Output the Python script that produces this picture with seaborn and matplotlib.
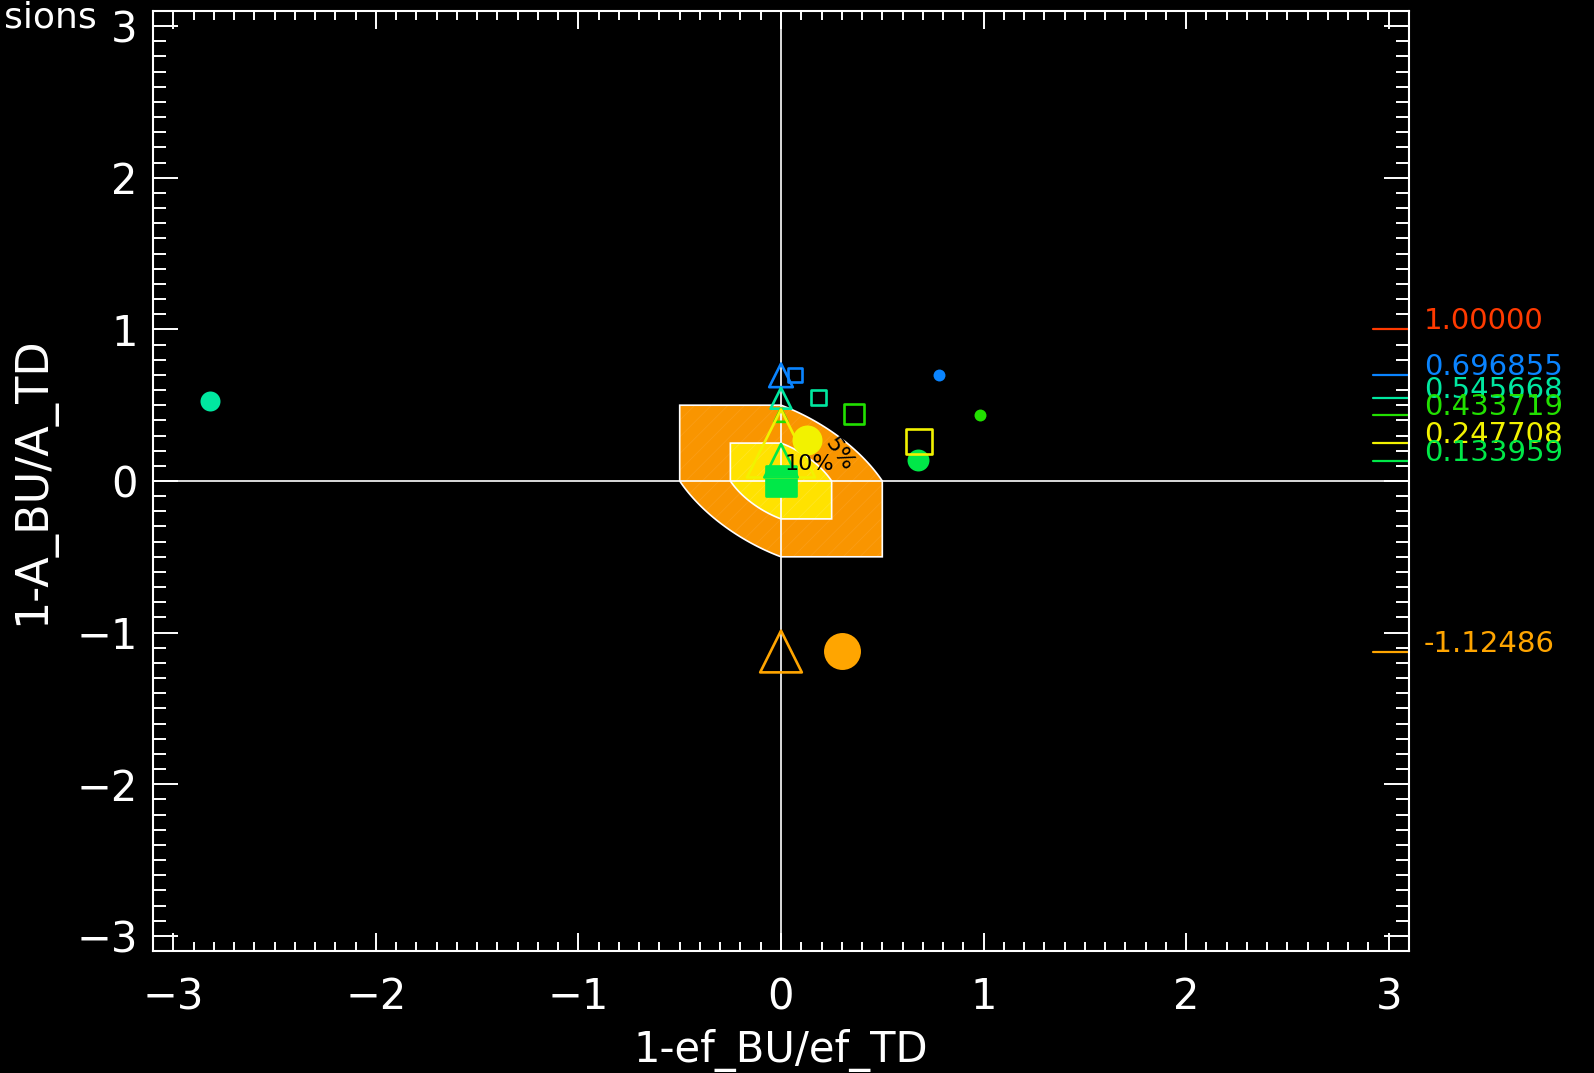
import numpy as np
import pandas as pd
import matplotlib
matplotlib.use("Agg")
import matplotlib.pyplot as plt
import seaborn as sns
from matplotlib.patches import Polygon
from matplotlib.transforms import blended_transform_factory
from matplotlib.ticker import MultipleLocator

nan = np.nan

# ---------------- data ----------------
series_labels = ["1.00000", "0.696855", "0.545668", "0.433719", "0.247708", "0.133959", "-1.12486"]
series_values = [1.00000, 0.696855, 0.545668, 0.433719, 0.247708, 0.133959, -1.12486]
series_colors = ["#FF3A00", "#0A84FF", "#00E8A0", "#22E000", "#F2F200", "#00E848", "#FFA500"]

# open triangles (x, y, size in points)
tri_x = [nan, 0.0, 0.0, 0.0, 0.0, 0.0, 0.0]
tri_y = [nan, 0.696855, 0.545668, 0.433719, 0.247708, 0.133959, -1.12486]
tri_size = [nan, 17, 15, 9.5, 49, 24, 30]

# squares (x, y, size in points, filled?)
sq_x = [nan, 0.07, 0.185, 0.36, 0.68, 0.0, nan]
sq_y = [nan, 0.70, 0.55, 0.44, 0.26, 0.0, nan]
sq_size = [nan, 10, 11, 14.5, 18.5, 22, nan]
sq_filled = [False, False, False, False, False, True, False]

# filled circles (x, y, diameter in points)
circ_x = [nan, 0.78, -2.82, 0.98, 0.13, 0.675, 0.30]
circ_y = [nan, 0.70, 0.53, 0.435, 0.27, 0.138, -1.12]
circ_size = [nan, 8.6, 14.4, 8.6, 21.6, 15.8, 26.6]

# tolerance zones
zone_radii = [0.5, 0.25]
zone_colors = ["#F99500", "#FFE200"]
zone_hatch = ["#FB9E18", "#FFE628"]
zone_texts = ["10%", "5%"]

x_label = "1-ef_BU/ef_TD"
y_label = "1-A_BU/A_TD"
corner_text = "sions"

# ---------------- style ----------------
sns.set_theme(style="ticks")
plt.rcParams.update({
    "font.family": ["DejaVu Sans"],
    "figure.facecolor": "black",
    "axes.facecolor": "black",
    "axes.edgecolor": "white",
    "axes.linewidth": 1.5,
    "xtick.color": "white",
    "ytick.color": "white",
    "text.color": "white",
    "hatch.linewidth": 0.5,
})

fig = plt.figure(figsize=(15.94, 10.73), dpi=100)
ax = fig.add_axes([153 / 1594, 122 / 1073, 1256 / 1594, 940 / 1073])
ax.set_facecolor("black")


def zone_vertices(r, n=90):
    # same-sign quadrants bounded by x^2 + y^2 + xy = r^2, others by |x|,|y| <= r
    def arc(a0, a1):
        t = np.linspace(a0, a1, n)
        rho = r / np.sqrt(1 + np.sin(t) * np.cos(t))
        return list(zip(rho * np.cos(t), rho * np.sin(t)))
    pts = [(-r, r), (0, r)]
    pts += arc(np.pi / 2, 0)
    pts += [(r, 0), (r, -r), (0, -r)]
    pts += arc(3 * np.pi / 2, np.pi)
    pts += [(-r, 0)]
    return np.array(pts)


for i, r in enumerate(zone_radii):
    v = zone_vertices(r)
    ax.add_patch(Polygon(v, closed=True, facecolor=zone_colors[i], edgecolor="none",
                         lw=0, zorder=1 + i))
    ax.add_patch(Polygon(v, closed=True, facecolor="none", edgecolor=zone_hatch[i],
                         hatch="//", lw=0, zorder=1 + i))
    ax.add_patch(Polygon(v, closed=True, facecolor="none", edgecolor="white",
                         lw=1.2, zorder=1.5 + i))

ax.axhline(0, color="white", lw=1.2, zorder=3.5)
ax.axvline(0, color="white", lw=1.2, zorder=3.5)

# markers
for i in range(len(series_values)):
    c = series_colors[i]
    if not np.isnan(circ_x[i]):
        sns.scatterplot(x=[circ_x[i]], y=[circ_y[i]], marker="o", s=circ_size[i] ** 2,
                        color=c, edgecolor=c, linewidth=0, ax=ax, zorder=5, legend=False)
for i in range(len(series_values)):
    c = series_colors[i]
    if not np.isnan(sq_x[i]):
        fc = c if sq_filled[i] else "none"
        sns.scatterplot(x=[sq_x[i]], y=[sq_y[i]], marker="s", s=sq_size[i] ** 2,
                        color=c, facecolor=fc, edgecolor=c, linewidth=1.9, ax=ax,
                        zorder=6, legend=False)
for i in range(len(series_values)):
    c = series_colors[i]
    if not np.isnan(tri_x[i]):
        sns.scatterplot(x=[tri_x[i]], y=[tri_y[i]], marker="^", s=tri_size[i] ** 2,
                        color=c, facecolor="none", edgecolor=c, linewidth=1.9, ax=ax,
                        zorder=7, legend=False)

# zone labels
ax.text(0.14, 0.11, zone_texts[0], color="black", fontsize=16, ha="center",
        va="center", zorder=9)
ax.text(0.29, 0.18, zone_texts[1], color="black", fontsize=16, ha="center",
        va="center", rotation=-55, zorder=9)

# right-side markers and labels
trans = blended_transform_factory(ax.transAxes, ax.transData)
for v, lab, c in zip(series_values, series_labels, series_colors):
    ax.plot([0.971, 1.0], [v, v], color=c, lw=1.6, transform=trans, clip_on=False, zorder=10)
    ax.text(1.012, v, lab, color=c, fontsize=21, ha="left", va="baseline",
            transform=trans, clip_on=False)

# axes
ax.set_xlim(-3.1, 3.1)
ax.set_ylim(-3.1, 3.1)
ax.xaxis.set_major_locator(MultipleLocator(1))
ax.yaxis.set_major_locator(MultipleLocator(1))
ax.xaxis.set_minor_locator(MultipleLocator(0.1))
ax.yaxis.set_minor_locator(MultipleLocator(0.1))
ax.tick_params(axis="x", which="major", direction="in", length=13, width=1.4,
               top=True, bottom=True, labelsize=30, pad=18, labelcolor="white")
ax.tick_params(axis="x", which="minor", direction="in", length=6.5, width=1.4,
               top=True, bottom=True)
ax.tick_params(axis="y", which="major", direction="in", length=18, width=1.4,
               left=True, right=True, labelsize=30, pad=11, labelcolor="white")
ax.tick_params(axis="y", which="minor", direction="in", length=9.4, width=1.4,
               left=True, right=True)
for s in ax.spines.values():
    s.set_color("white")
    s.set_linewidth(1.5)
    s.set_zorder(12)

ax.set_xlabel(x_label, fontsize=30, color="white")
ax.xaxis.set_label_coords(0.5, -0.083)
ax.set_ylabel(y_label, fontsize=32, color="white", va="center")
ax.yaxis.set_label_coords(-0.0955, 0.5)

fig.text(97 / 1594, 1 - 28 / 1073, corner_text, color="white", fontsize=26,
         ha="right", va="baseline")

fig.savefig("out.png", dpi=100, facecolor="black")
